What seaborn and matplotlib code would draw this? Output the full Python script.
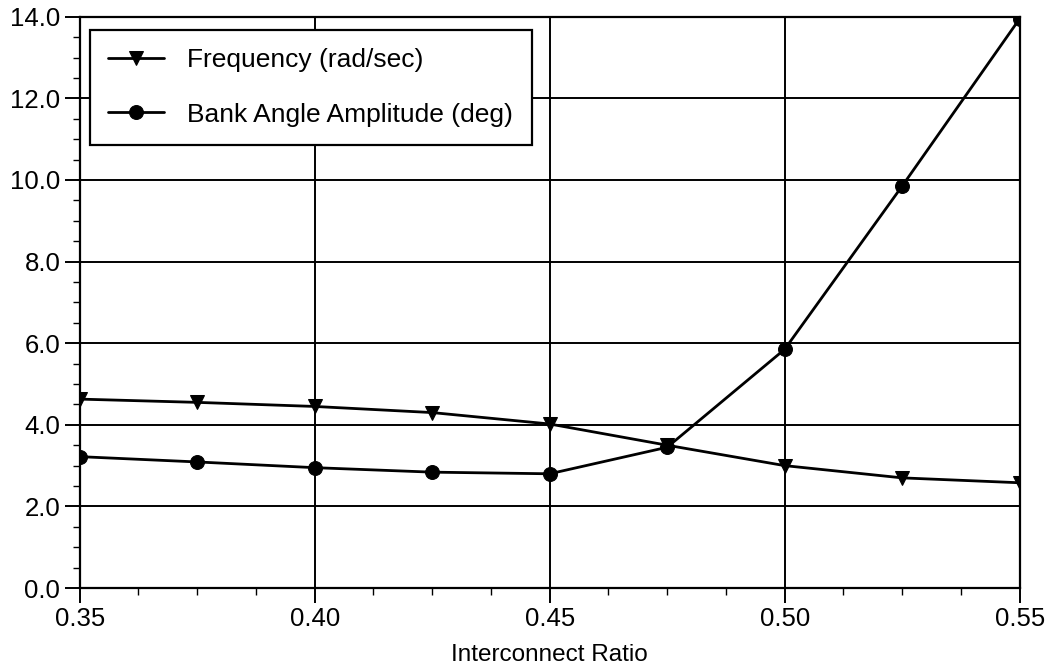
import matplotlib
matplotlib.use("Agg")
import matplotlib.pyplot as plt
from matplotlib.ticker import MultipleLocator, FormatStrFormatter
import seaborn as sns
import pandas as pd

ratio = [0.35, 0.375, 0.40, 0.425, 0.45, 0.475, 0.50, 0.525, 0.55]
frequency = [4.63, 4.55, 4.45, 4.30, 4.02, 3.50, 3.00, 2.70, 2.58]
bank_angle = [3.22, 3.09, 2.95, 2.84, 2.80, 3.45, 5.85, 9.85, 13.95]
series_names = ["Frequency (rad/sec)", "Bank Angle Amplitude (deg)"]

df = pd.concat([
    pd.DataFrame({"ratio": ratio, "value": frequency, "series": series_names[0]}),
    pd.DataFrame({"ratio": ratio, "value": bank_angle, "series": series_names[1]}),
])

sns.set_theme(style="white")
plt.rcParams["font.family"] = ["Liberation Sans", "DejaVu Sans"]
plt.rcParams["text.color"] = "black"
plt.rcParams["axes.labelcolor"] = "black"

fig, ax = plt.subplots(figsize=(10.49, 6.69), dpi=100)
fig.subplots_adjust(left=0.076, right=0.972, top=0.975, bottom=0.121)

sns.lineplot(data=df, x="ratio", y="value", hue="series", style="series",
             markers={series_names[0]: "v", series_names[1]: "o"},
             dashes=False, palette=["black", "black"], markersize=10,
             linewidth=2.0, markeredgecolor="black", ax=ax)

ax.set_xlim(0.35, 0.55)
ax.set_ylim(0, 14)
ax.xaxis.set_major_locator(MultipleLocator(0.05))
ax.xaxis.set_minor_locator(MultipleLocator(0.0125))
ax.yaxis.set_major_locator(MultipleLocator(2))
ax.yaxis.set_minor_locator(MultipleLocator(0.5))
ax.xaxis.set_major_formatter(FormatStrFormatter("%.2f"))
ax.yaxis.set_major_formatter(FormatStrFormatter("%.1f"))

ax.grid(True, which="major", color="black", linewidth=1.4)
ax.set_axisbelow(True)
for s in ax.spines.values():
    s.set_color("black")
    s.set_linewidth(1.6)

ax.tick_params(axis="both", which="major", direction="out", length=11,
               width=1.4, color="black", labelsize=18.5, labelcolor="black", pad=3)
ax.tick_params(axis="both", which="minor", direction="out", length=5,
               width=1.0, color="black")
ax.tick_params(axis="x", which="both", bottom=True)
ax.tick_params(axis="y", which="both", left=True)

ax.set_xlabel("Interconnect Ratio", fontsize=17.5, color="black", labelpad=9)
ax.set_ylabel("")

leg = ax.legend(loc="upper left", bbox_to_anchor=(0.0106, 0.977), fontsize=19,
                frameon=True, fancybox=False, edgecolor="black",
                framealpha=1, borderpad=0.7, labelspacing=1.15,
                handlelength=2.1, handletextpad=0.9, borderaxespad=0)
leg.get_frame().set_linewidth(1.6)
leg.set_title(None)
for t in leg.get_texts():
    t.set_color("black")

fig.savefig("out.png", dpi=100, facecolor="white")
